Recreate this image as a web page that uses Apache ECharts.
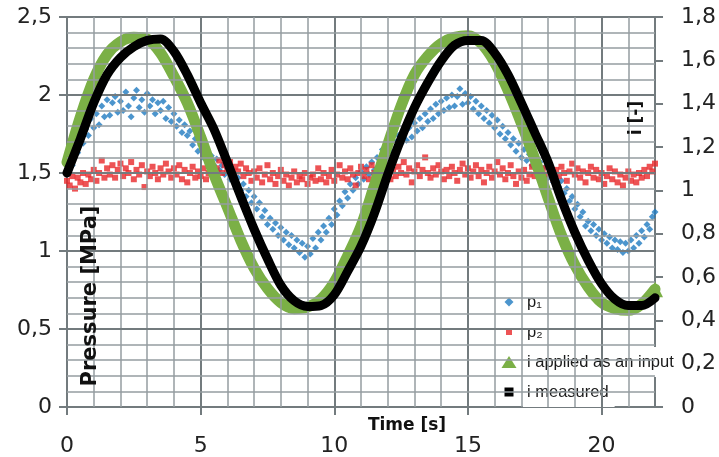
<!DOCTYPE html>
<html>
<head>
<meta charset="utf-8">
<script src="https://cdn.jsdelivr.net/npm/echarts@6.0.0/dist/echarts.min.js"></script>
<style>
html,body{margin:0;padding:0;background:#fff;}
#chart{width:719px;height:457px;}
</style>
</head>
<body>
<div id="chart"></div>
<script>
// sample times of the smooth i curves (s)
const tHalf = [0,0.5,1,1.5,2,2.5,3,3.5,4,4.5,5,5.5,6,6.5,7,7.5,8,8.5,9,9.5,10,10.5,11,11.5,12,12.5,13,13.5,14,14.5,15,15.5,16,16.5,17,17.5,18,18.5,19,19.5,20,20.5,21,21.5,22];

// i applied as an input [-] (right axis)
const iApplied = [1.130,1.339,1.512,1.627,1.685,1.706,1.699,1.634,1.526,1.404,1.246,1.073,0.922,0.770,0.641,0.547,0.482,0.454,0.461,0.497,0.576,0.698,0.835,1.022,1.210,1.390,1.534,1.620,1.678,1.706,1.714,1.678,1.591,1.462,1.310,1.145,0.965,0.792,0.655,0.554,0.482,0.454,0.446,0.475,0.544];

// i measured [-] (right axis)
const iMeasured = [1.080,1.238,1.404,1.534,1.613,1.663,1.692,1.699,1.642,1.534,1.404,1.282,1.130,0.972,0.821,0.684,0.562,0.490,0.464,0.468,0.518,0.626,0.742,0.893,1.073,1.238,1.382,1.498,1.598,1.670,1.692,1.692,1.634,1.534,1.404,1.267,1.130,0.958,0.806,0.677,0.569,0.497,0.468,0.468,0.504];

// p1 [MPa], sampled every 0.1 s from 0 to 22 s
const p1 = [1.49,1.56,1.55,1.66,1.63,1.73,1.69,1.78,1.74,1.85,
 1.79,1.88,1.81,1.93,1.86,1.97,1.87,1.95,1.99,1.89,
 1.96,1.90,2.02,1.93,1.86,1.98,2.03,1.92,1.97,1.89,
 2.01,1.93,1.97,1.88,1.95,1.90,1.96,1.85,1.92,1.83,
 1.88,1.80,1.84,1.76,1.81,1.74,1.77,1.68,1.72,1.64,
 1.68,1.60,1.65,1.56,1.61,1.55,1.59,1.52,1.55,1.49,
 1.53,1.46,1.49,1.43,1.47,1.39,1.43,1.35,1.39,1.31,
 1.35,1.27,1.31,1.22,1.26,1.17,1.21,1.14,1.18,1.10,
 1.15,1.07,1.12,1.04,1.10,1.02,1.07,0.99,1.05,0.96,
 1.03,0.98,1.08,1.02,1.12,1.07,1.16,1.12,1.21,1.17,
 1.27,1.23,1.32,1.29,1.38,1.34,1.43,1.39,1.47,1.43,
 1.51,1.46,1.54,1.49,1.57,1.52,1.60,1.56,1.65,1.61,
 1.69,1.64,1.71,1.66,1.74,1.69,1.76,1.71,1.79,1.73,
 1.82,1.77,1.85,1.79,1.88,1.83,1.91,1.85,1.94,1.88,
 1.96,1.90,1.98,1.92,2.00,1.93,1.99,2.04,1.94,2.01,
 1.95,1.99,1.91,1.96,1.88,1.93,1.85,1.90,1.82,1.87,
 1.79,1.84,1.75,1.80,1.72,1.76,1.68,1.72,1.64,1.69,
 1.60,1.65,1.58,1.62,1.55,1.60,1.53,1.57,1.50,1.54,
 1.47,1.51,1.44,1.48,1.41,1.45,1.37,1.40,1.32,1.35,
 1.27,1.30,1.22,1.25,1.16,1.19,1.13,1.17,1.10,1.14,
 1.07,1.11,1.05,1.09,1.02,1.07,1.01,1.06,0.99,1.05,
 1.00,1.07,1.02,1.10,1.05,1.13,1.09,1.17,1.14,1.22,
 1.25];

// p2 [MPa], sampled every 0.1 s from 0 to 22 s
const p2 = [1.45,1.42,1.48,1.40,1.47,1.44,1.50,1.43,1.49,1.46,
 1.52,1.45,1.50,1.58,1.47,1.53,1.49,1.55,1.47,1.52,
 1.56,1.48,1.53,1.50,1.57,1.46,1.52,1.49,1.55,1.41,
 1.51,1.48,1.54,1.50,1.46,1.53,1.49,1.56,1.51,1.47,
 1.53,1.49,1.55,1.46,1.52,1.44,1.50,1.54,1.47,1.51,
 1.48,1.53,1.46,1.50,1.55,1.49,1.53,1.58,1.50,1.55,
 1.52,1.57,1.49,1.54,1.51,1.56,1.48,1.53,1.50,1.45,
 1.51,1.47,1.53,1.44,1.49,1.55,1.46,1.50,1.43,1.48,
 1.52,1.45,1.49,1.42,1.47,1.51,1.44,1.48,1.46,1.50,
 1.43,1.47,1.49,1.45,1.53,1.46,1.50,1.44,1.48,1.52,
 1.45,1.49,1.55,1.47,1.51,1.46,1.53,1.49,1.42,1.50,
 1.54,1.48,1.52,1.46,1.55,1.50,1.47,1.53,1.49,1.56,
 1.51,1.46,1.52,1.48,1.54,1.50,1.57,1.49,1.53,1.44,
 1.51,1.55,1.48,1.52,1.60,1.50,1.47,1.53,1.49,1.55,
 1.51,1.46,1.52,1.48,1.54,1.50,1.45,1.52,1.56,1.49,
 1.53,1.47,1.51,1.55,1.48,1.52,1.44,1.50,1.54,1.47,
 1.51,1.57,1.49,1.53,1.46,1.50,1.55,1.48,1.43,1.51,
 1.47,1.52,1.45,1.49,1.54,1.48,1.51,1.46,1.53,1.49,
 1.55,1.50,1.46,1.52,1.48,1.54,1.50,1.45,1.51,1.56,
 1.49,1.53,1.47,1.51,1.44,1.50,1.54,1.47,1.52,1.46,
 1.50,1.43,1.48,1.53,1.46,1.51,1.44,1.49,1.42,1.47,
 1.51,1.45,1.49,1.44,1.50,1.47,1.52,1.48,1.54,1.51,
 1.56];

const seriesNames = ['p\u2081', 'p\u2082', 'i applied as an input', 'i measured'];
const xTicks = [0, 5, 10, 15, 20];

const tTenth = p1.map((_, k) => Math.round(k) / 10);
const pairs = (ts, vs) => vs.map((v, k) => [ts[k], v]);

const MAJOR = '#737b7e';
const MINOR = '#959da0';
const comma = v => String(Math.round(v * 10) / 10).replace('.', ',');

// grid positions: every 1 s and every 0.1 MPa
const gridX = [];
for (let s = 1; s < 22; s++) gridX.push(s);
const gridY = [];
for (let k = 1; k < 25; k++) gridY.push(k / 10);
const lineItem = (key, v) => ({
  [key]: v,
  lineStyle: {color: (key === 'xAxis' ? v % 5 === 0 : Math.round(v * 10) % 5 === 0) ? MAJOR : MINOR,
    width: (key === 'xAxis' ? v % 5 === 0 : Math.round(v * 10) % 5 === 0) ? 2 : 1.5, type: 'solid', opacity: 1}
});

const chart = echarts.init(document.getElementById('chart'), null, {renderer: 'canvas'});
const lastIdx = iApplied.length - 1;

chart.setOption({
  animation: false,
  backgroundColor: '#fff',
  grid: {left: 67, right: 62, top: 17, bottom: 49, containLabel: false},
  xAxis: {
    type: 'value', min: 0, max: 22, interval: 5,
    axisLine: {show: true, lineStyle: {color: MAJOR, width: 2}},
    axisTick: {show: true, length: 8, lineStyle: {color: MAJOR, width: 2}},
    axisLabel: {margin: 28, fontFamily: 'DejaVu Sans', fontSize: 22, color: '#222',
      showMaxLabel: false, formatter: v => xTicks.includes(v) ? String(v) : ''},
    splitLine: {show: true, lineStyle: {color: MAJOR, width: 2}}
  },
  yAxis: [{
    type: 'value', min: 0, max: 2.5, interval: 0.5, position: 'left',
    axisLine: {show: true, lineStyle: {color: MAJOR, width: 2}},
    axisTick: {show: true, length: 8, lineStyle: {color: MAJOR, width: 2}},
    axisLabel: {margin: 15, fontFamily: 'DejaVu Sans', fontSize: 22, color: '#222', formatter: comma},
    splitLine: {show: true, lineStyle: {color: MAJOR, width: 2}}
  }, {
    type: 'value', min: 0, max: 1.8, interval: 0.2, position: 'right',
    axisLine: {show: true, lineStyle: {color: MAJOR, width: 2}},
    axisTick: {show: true, length: 8, lineStyle: {color: MAJOR, width: 2}},
    axisLabel: {margin: 26, fontFamily: 'DejaVu Sans', fontSize: 22, color: '#222', formatter: comma},
    splitLine: {show: false}
  }],
  legend: {
    orient: 'vertical', left: 495, top: 282, itemGap: 0,
    itemWidth: 18, itemHeight: 14,
    data: [
      {name: seriesNames[0], icon: 'path://M0 0M18 0M18 14M0 14M9 2.5L13.5 7L9 11.5L4.5 7Z'},
      {name: seriesNames[1], icon: 'path://M0 0M18 0M18 14M0 14M6 4L12 4L12 10L6 10Z'},
      {name: seriesNames[2], icon: 'path://M0 0M18 0M18 14M0 14M9 1L16.5 13L1.5 13Z'},
      {name: seriesNames[3], icon: 'path://M0 0M18 0M18 14M0 14M4.5 2.5L13.5 2.5L13.5 11.5L4.5 11.5Z'}
    ],
    textStyle: {fontFamily: 'Liberation Sans', fontSize: 16.5, color: '#1a1a1a',
      backgroundColor: '#fff', padding: [4, 6, 4, 4], lineHeight: 22}
  },
  series: [{
    // grid lines only (no data marks)
    name: 'grid', type: 'line', yAxisIndex: 0, data: [], z: 1,
    silent: true, showSymbol: false,
    markLine: {
      silent: true, symbol: ['none', 'none'], label: {show: false},
      lineStyle: {color: MINOR, width: 1.5, type: 'solid', opacity: 1},
      emphasis: {disabled: true},
      animation: false,
      data: gridX.map(v => lineItem('xAxis', v)).concat(gridY.map(v => lineItem('yAxis', v)))
    }
  }, {
    name: seriesNames[0], type: 'scatter', yAxisIndex: 0,
    symbol: 'diamond', symbolSize: 7,
    itemStyle: {color: '#1f7bc1'},
    data: pairs(tTenth, p1), z: 2
  }, {
    name: seriesNames[1], type: 'scatter', yAxisIndex: 0,
    symbol: 'rect', symbolSize: 6,
    itemStyle: {color: '#e8282b'},
    data: pairs(tTenth, p2), z: 3
  }, {
    name: seriesNames[2], type: 'line', yAxisIndex: 1, smooth: 0.3,
    symbol: 'triangle', showSymbol: true,
    symbolSize: (v, p) => p.dataIndex === lastIdx ? 16 : 0,
    itemStyle: {color: '#7bb046'},
    lineStyle: {color: '#7bb046', width: 11, cap: 'round', join: 'round'},
    data: pairs(tHalf, iApplied), z: 4
  }, {
    name: seriesNames[3], type: 'line', yAxisIndex: 1, smooth: 0.3,
    symbol: 'rect', showSymbol: false,
    itemStyle: {color: '#000'},
    lineStyle: {color: '#000', width: 9, cap: 'round', join: 'round'},
    data: pairs(tHalf, iMeasured), z: 5
  }],
  graphic: [{
    type: 'text', x: 407, y: 426,
    style: {text: 'Time [s]', font: 'bold 17px "DejaVu Sans"', fill: '#111', align: 'center', verticalAlign: 'middle'},
    z: 100
  }, {
    type: 'text', x: 91, y: 296, rotation: Math.PI / 2,
    style: {text: 'Pressure [MPa]', font: 'bold 21px "DejaVu Sans"', fill: '#111', align: 'center', verticalAlign: 'middle'},
    z: 100
  }, {
    type: 'text', x: 637, y: 118, rotation: Math.PI / 2,
    style: {text: 'i [-]', font: 'bold 17px "DejaVu Sans"', fill: '#111', align: 'center', verticalAlign: 'middle'},
    z: 100
  }]
});
</script>
</body>
</html>
